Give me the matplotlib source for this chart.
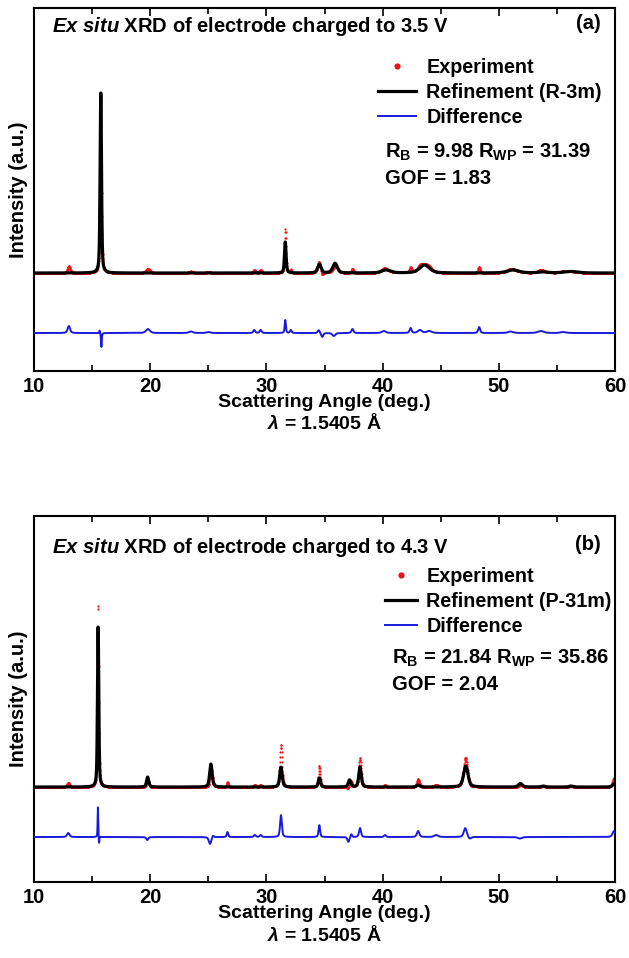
import numpy as np
import matplotlib
matplotlib.use("Agg")
import matplotlib.pyplot as plt
from matplotlib.lines import Line2D

FS = 14.5
FS_LEG = 14.2
FS_XLAB = 14

plt.rcParams["font.family"] = ["Liberation Sans", "DejaVu Sans"]
plt.rcParams["font.weight"] = "bold"
plt.rcParams["font.size"] = FS
plt.rcParams["mathtext.fontset"] = "custom"
plt.rcParams["mathtext.rm"] = "Liberation Sans:bold"
plt.rcParams["mathtext.bf"] = "Liberation Sans:bold"
plt.rcParams["mathtext.it"] = "Liberation Sans:bold:italic"

# 2-theta grid (deg.)
two_theta = np.arange(10.0, 60.001, 0.02)

# --- electrode charged to 3.5 V, R-3m refinement ---
calc_pos_a = [15.75, 31.62, 34.55, 35.90, 40.30, 43.60, 51.20, 53.80, 56.20]
calc_hgt_a = [183, 31, 8.6, 9.7, 3, 8, 3, 1, 1.5]
calc_fwhm_a = [0.14, 0.16, 0.35, 0.45, 0.9, 1.0, 1.2, 1.0, 1.4]

diff_pos_a = [13.00, 15.65, 15.80, 19.80, 23.50, 25.00, 28.95, 29.50, 31.62,
              32.10, 34.50, 34.80, 35.80, 37.40, 40.10, 42.40, 43.20, 44.00,
              48.30, 51.00, 53.60, 55.50]
diff_amp_a = [7, 3, -14, 4, 1.5, 1, 3, 3, 13,
              3, 3, -4, -3, 4, 2, 5, 3, 2,
              6, 1.5, 2, 1]
diff_fwhm_a = [0.25, 0.08, 0.08, 0.4, 0.4, 0.4, 0.2, 0.2, 0.12,
               0.15, 0.2, 0.2, 0.3, 0.2, 0.4, 0.2, 0.4, 0.5,
               0.2, 0.5, 0.6, 0.5]

# --- electrode charged to 4.3 V, P-31m refinement ---
calc_pos_b = [15.52, 19.78, 25.22, 31.25, 34.55, 37.15, 38.05, 43.05, 47.15,
              51.85, 53.80, 56.20, 59.90]
calc_hgt_b = [160, 10, 23, 20, 9, 7, 20, 2, 21, 3.5, 1, 1, 3]
calc_fwhm_b = [0.13, 0.22, 0.25, 0.25, 0.22, 0.25, 0.25, 0.3, 0.45,
               0.4, 0.4, 0.4, 0.3]

diff_pos_b = [12.95, 15.50, 15.60, 19.75, 25.15, 25.40, 26.65, 29.00, 29.50,
              31.25, 34.55, 37.05, 37.30, 38.05, 40.20, 43.05, 44.60, 47.10,
              47.50, 51.80, 59.90]
diff_amp_b = [4, 30, -7, -3, -7, 2, 5, 2, 2,
              22, 12, -5, 3, 9, 2, 6, 2, 9,
              -2, -1.5, 6]
diff_fwhm_b = [0.25, 0.06, 0.06, 0.2, 0.25, 0.2, 0.15, 0.2, 0.2,
               0.18, 0.15, 0.2, 0.15, 0.2, 0.2, 0.25, 0.4, 0.3,
               0.3, 0.4, 0.3]


def pseudo_voigt(x, pos, hgt, fwhm, eta=0.5):
    y = np.zeros_like(x)
    for p, h, w in zip(pos, hgt, fwhm):
        d = (x - p) / (w / 2.0)
        lor = 1.0 / (1.0 + d ** 2)
        gau = np.exp(-np.log(2) * d ** 2)
        y += h * (eta * lor + (1 - eta) * gau)
    return y


def draw_panel(ax, calc, diff, offset, ylim, title, tag, phase, stats,
               title_y, leg_xy, stats_xy, lam_y):
    obs = calc + diff
    ax.plot(two_theta, obs, "o", color="#e8161b", ms=1.6, mew=0, zorder=2)
    ax.plot(two_theta, calc, color="black", lw=2.3, zorder=3)
    ax.plot(two_theta, diff + offset, color="#1a1adb", lw=1.4, zorder=3)

    ax.set_xlim(10, 60)
    ax.set_ylim(*ylim)
    ax.set_xticks(np.arange(10, 61, 10))
    ax.set_xticks(np.arange(15, 60, 10), minor=True)
    ax.set_yticks([])
    ax.tick_params(axis="x", which="both", direction="in", top=True,
                   width=1.2, pad=4, labelsize=FS)
    ax.tick_params(axis="x", which="major", length=6)
    ax.tick_params(axis="x", which="minor", length=4)
    for s in ax.spines.values():
        s.set_linewidth(1.5)

    ax.set_xlabel("Scattering Angle (deg.)", fontsize=FS_XLAB,
                  fontweight="bold", labelpad=-1)
    ax.text(0.5, lam_y, r"$\lambda$ = 1.5405 Å", transform=ax.transAxes,
            ha="center", va="center", fontsize=FS_XLAB, fontweight="bold")
    ax.set_ylabel("Intensity (a.u.)", fontsize=FS, fontweight="bold",
                  labelpad=4)

    ax.text(0.031, title_y, r"$Ex\ situ$ " + title, transform=ax.transAxes,
            ha="left", va="center", fontsize=FS)
    ax.text(0.975, title_y + 0.008, tag, transform=ax.transAxes,
            ha="right", va="center", fontsize=FS)

    handles = [
        Line2D([], [], ls="none", marker="o", ms=4.5, mew=0, color="#e8161b"),
        Line2D([], [], color="black", lw=2.3),
        Line2D([], [], color="#1a1adb", lw=1.4),
    ]
    labels = ["Experiment", "Refinement (%s)" % phase, "Difference"]
    ax.legend(handles, labels, loc="upper left", bbox_to_anchor=leg_xy[:2],
              frameon=False, borderpad=0, borderaxespad=0,
              handlelength=leg_xy[2], handletextpad=0.5, labelspacing=0.3,
              fontsize=FS_LEG)

    ax.text(stats_xy[0], stats_xy[1], stats[0], transform=ax.transAxes,
            ha="left", va="center", fontsize=FS)
    ax.text(stats_xy[0], stats_xy[1] - 0.073, stats[1], transform=ax.transAxes,
            ha="left", va="center", fontsize=FS)


fig = plt.figure(figsize=(6.29, 9.58), dpi=100)
ax_a = fig.add_axes([0.054, 0.6127, 0.924, 0.379])
ax_b = fig.add_axes([0.054, 0.0793, 0.924, 0.382])

calc_a = pseudo_voigt(two_theta, calc_pos_a, calc_hgt_a, calc_fwhm_a)
diff_a = pseudo_voigt(two_theta, diff_pos_a, diff_amp_a, diff_fwhm_a)
calc_b = pseudo_voigt(two_theta, calc_pos_b, calc_hgt_b, calc_fwhm_b)
diff_b = pseudo_voigt(two_theta, diff_pos_b, diff_amp_b, diff_fwhm_b)

draw_panel(ax_a, calc_a, diff_a, -60, (-98, 265),
           "XRD of electrode charged to 3.5 V", "(a)", "R-3m",
           (r"R$_\mathbf{B}$ = 9.98 R$_\mathbf{WP}$ = 31.39", "GOF = 1.83"),
           0.948, (0.592, 0.862, 1.95), (0.604, 0.603), -0.143)
draw_panel(ax_b, calc_b, diff_b, -50, (-95, 271),
           "XRD of electrode charged to 4.3 V", "(b)", "P-31m",
           (r"R$_\mathbf{B}$ = 21.84 R$_\mathbf{WP}$ = 35.86", "GOF = 2.04"),
           0.915, (0.604, 0.86, 1.6), (0.616, 0.612), -0.144)

fig.savefig("out.png", dpi=100)
